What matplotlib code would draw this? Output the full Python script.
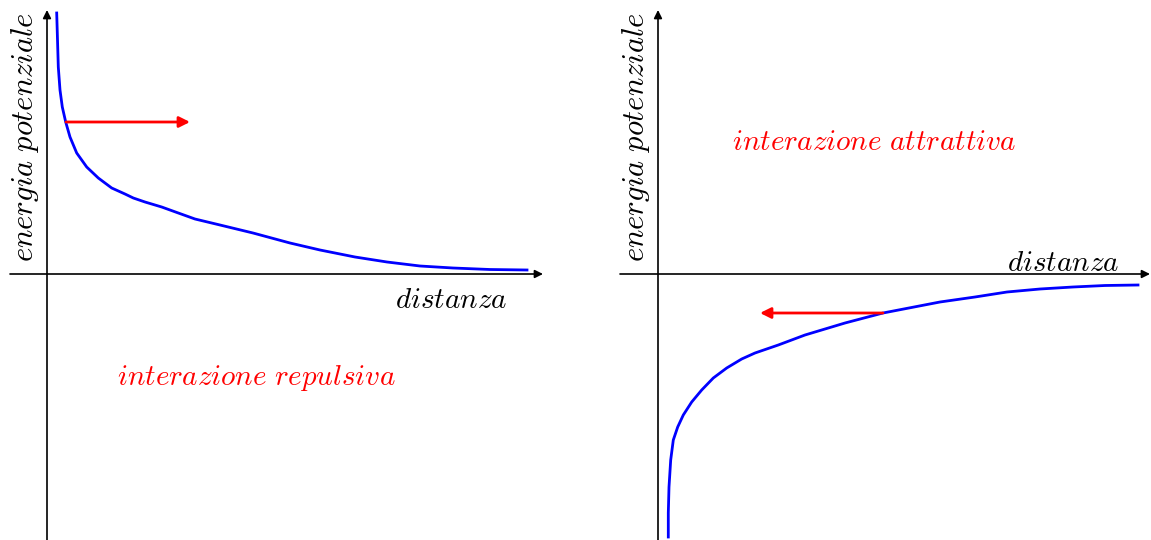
import matplotlib
matplotlib.use("Agg")
import matplotlib.pyplot as plt

plt.rcParams['mathtext.fontset'] = 'cm'

# Data (units: pixels relative to axis origin; x = distance, y = energy)
rep_dist = [9.7, 10.3, 11.3, 13, 15.3, 18.7, 23, 29.7, 39.7, 51.3, 64.7, 78, 86.3, 98,
            114.7, 131.3, 148, 173, 206, 243, 273, 308, 340, 373, 406, 443, 480]
rep_energy = [261, 241, 207, 184, 167, 152, 137, 121, 107, 96, 86, 80, 76, 72,
              67, 61, 55, 49, 41, 31, 24, 17, 12, 8, 6, 4.5, 4]

att_dist = [10.3, 10.3, 11, 12.7, 15.3, 19.7, 25.3, 33.7, 43.7, 55.3, 68.7, 83.7, 97,
            120.3, 147, 187, 225, 282, 317, 349, 382, 415, 447, 480]
att_energy = [-263, -239, -213, -186, -166, -153, -141, -128, -116, -104, -94, -85, -79,
              -71, -61, -49, -39, -28, -23, -18, -15, -13, -11.5, -11]

rep_arrow = (19, 152, 143)   # start x, y, end x
att_arrow = (225, -39, 102)

label_y = "energia potenziale"
label_x = "distanza"
title_rep = "interazione repulsiva"
title_att = "interazione attrattiva"

W, H = 1151, 540
fig = plt.figure(figsize=(W / 100, H / 100), dpi=100)

def mt(s):
    return r"$\mathit{" + s.replace(" ", r"\ ") + "}$"

def make_axes(left_px, right_px, ox_px, oy_px):
    ax = fig.add_axes([left_px / W, 0, (right_px - left_px) / W, 1])
    ax.set_xlim(left_px - ox_px, right_px - ox_px)
    ax.set_ylim(-(H - oy_px), oy_px)
    ax.axis('off')
    return ax

def draw_axes(ax, x0, x1, y0, y1):
    ap = dict(arrowstyle='-|>', color='black', lw=1.2, mutation_scale=12,
              shrinkA=0, shrinkB=0)
    ax.annotate('', xy=(x1, 0), xytext=(x0, 0), arrowprops=ap)
    ax.annotate('', xy=(0, y1), xytext=(0, y0), arrowprops=ap)

red_ap = dict(arrowstyle='-|>', color='#ff0000', lw=2, mutation_scale=16,
              shrinkA=0, shrinkB=0)

# Left panel
axL = make_axes(0, 575, 47, 274)
draw_axes(axL, -37, 496, -270, 264)
axL.plot(rep_dist, rep_energy, color='#0000ff', lw=2, solid_joinstyle='round')
axL.annotate('', xy=(rep_arrow[2], rep_arrow[1]), xytext=(rep_arrow[0], rep_arrow[1]),
             arrowprops=red_ap)
axL.text(-22, 137, mt(label_y), rotation=90, ha='center', va='center', fontsize=22)
axL.text(404, -26, mt(label_x), ha='center', va='center', fontsize=21)
axL.text(209, -104, mt(title_rep), ha='center', va='center', fontsize=21, color='#ff0000')

# Right panel
axR = make_axes(575, 1151, 658, 274)
draw_axes(axR, -38, 492, -270, 264)
axR.plot(att_dist, att_energy, color='#0000ff', lw=2, solid_joinstyle='round')
axR.annotate('', xy=(att_arrow[2], att_arrow[1]), xytext=(att_arrow[0], att_arrow[1]),
             arrowprops=red_ap)
axR.text(-22, 137, mt(label_y), rotation=90, ha='center', va='center', fontsize=22)
axR.text(405, 11, mt(label_x), ha='center', va='center', fontsize=21)
axR.text(216, 132, mt(title_att), ha='center', va='center', fontsize=21, color='#ff0000')

fig.savefig('out.png', dpi=100)
